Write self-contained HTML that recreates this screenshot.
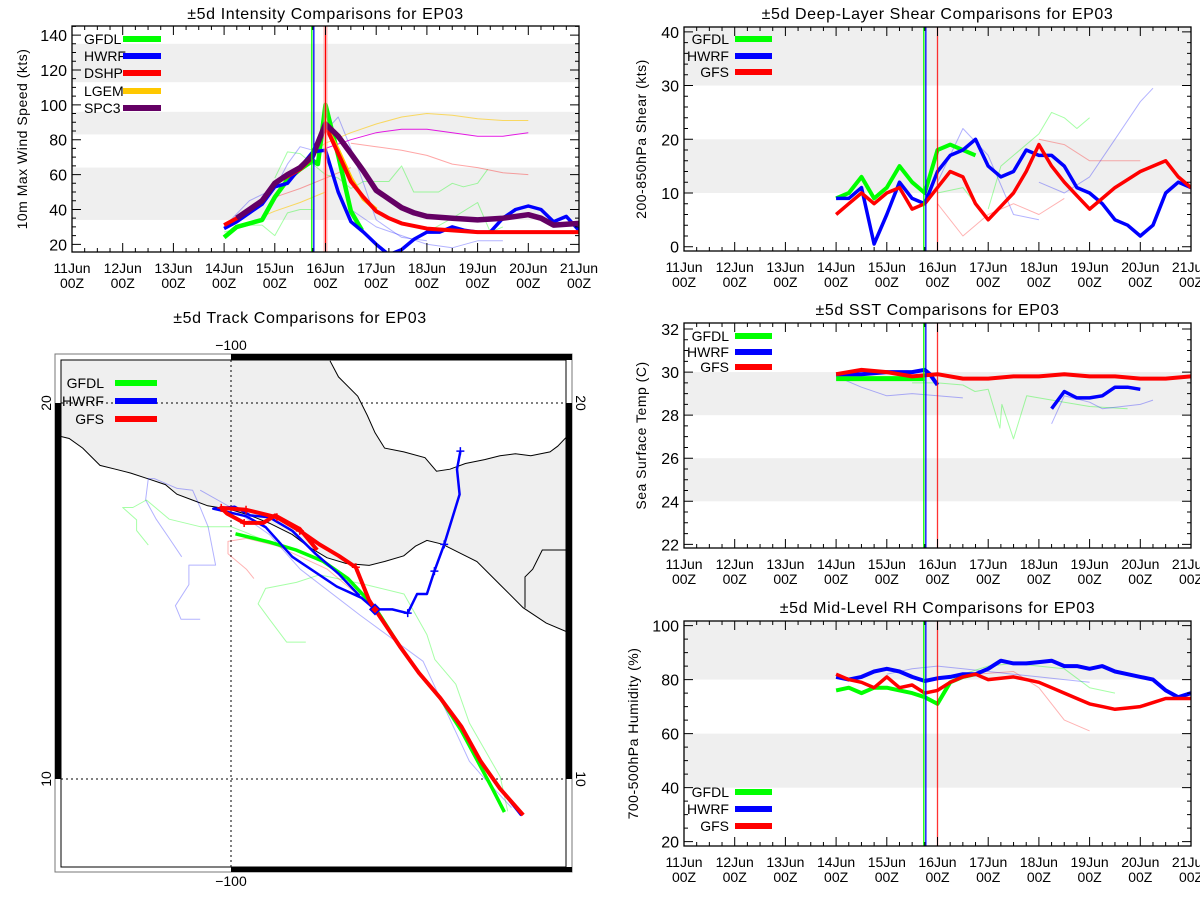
<!DOCTYPE html>
<html><head><meta charset="utf-8"><style>
html,body{margin:0;padding:0;background:#fff;}
svg{display:block;font-family:"Liberation Sans",sans-serif;}
</style></head><body>
<svg id="s" width="1200" height="900" xmlns="http://www.w3.org/2000/svg"></svg>
<script>
// ===== INTENSITY DATA (days since 11Jun 00Z, kts) =====
const dayLabels = ["11Jun","12Jun","13Jun","14Jun","15Jun","16Jun","17Jun","18Jun","19Jun","20Jun","21Jun"];
const intTicks = [20,40,60,80,100,120,140];
const dshpDays = [3,3.25,3.5,3.75,4,4.25,4.5,4.75,5,5.25,5.5,5.75,6,6.25,6.5,7,7.5,8,9,10];
const dshpVals = [31,35,40,45,55,59,63,70,88,72,56,47,39,35,32,29,28,27,27,27];
const spcDays = [3.25,3.5,3.75,4,4.25,4.5,4.75,5,5.25,5.5,5.75,6,6.25,6.5,6.75,7,7.5,8,8.5,9,9.25,9.5,10];
const spcVals = [35,40,45,55,60,64,71,89,82,72,62,51,46,41,38,36,35,34,35,37,35,31,32];
const lgemDays = [5,5.25,5.5,5.75,6];
const lgemVals = [88,74,58,46,40];
const gfdlIntDays = [3,3.25,3.5,3.75,4,4.25,4.5,4.75,4.85,5,5.25,5.5,5.72];
const gfdlIntVals = [24,30,32,34,47,57,63,68,66,100,71,39,28];
const hwrfIntDays = [3,3.25,3.5,3.75,4,4.25,4.5,4.75,5,5.25,5.5,5.75,6,6.25,6.5,6.75,7,7.25,7.5,7.75,8,8.25,8.5,8.75,9,9.25,9.5,9.75,10];
const hwrfIntVals = [29,33,38,43,53,55,64,73,74,50,33,27,20,14,17,23,27,27,30,28,27,27,35,40,42,40,33,36,28];
const lgemThinDays = [4.75,5,5.5,6,6.5,7,7.5,8,8.5,9];
const lgemThinVals = [73,78,84,89,93,95,94,92,91,91];
const lgemThin2Days = [3.75,4,4.5,5];
const lgemThin2Vals = [36,39,44,50];
const spcThinDays = [5,5.5,6,6.5,7,7.5,8,8.5,9];
const spcThinVals = [75,80,84,86,86,84,82,82,84];
const dshpThinDays = [4,4.5,5,5.5];
const dshpThinVals = [47,52,58,64];
const dshpThin2Days = [5.5,6,6.5,7,7.5,8,8.5,9];
const dshpThin2Vals = [78,76,74,71,66,64,61,60];
const gfdlThinIntDays = [3,3.5,3.75,4,4.25,4.5,4.75];
const gfdlThinIntVals = [27,31,31,25,38,40,40];
const gfdlThinInt2Days = [4,4.25,4.5,4.75,5,5.25,5.5,5.75,6.25,6.5,6.74,7.23,7.5,7.72,8,8.2];
const gfdlThinInt2Vals = [58,73,72,66,60,58,52,56,56,65,50,50,55,53,55,63];
const gfdlThinInt3Days = [7,7.5,8,8.25,8.5];
const gfdlThinInt3Vals = [27,35,44,27,30];
const hwrfThinIntDays = [3,3.5,4,4.25,4.5,4.75,5,5.25,5.5,5.75,6,6.5,7];
const hwrfThinIntVals = [30,45,52,66,76,74,85,93,75,55,34,24,22];
const hwrfThinInt2Days = [5.5,6,6.5,7,7.5,8,8.5];
const hwrfThinInt2Vals = [40,30,25,20,18,22,22];

// ===== SHEAR DATA (kts) =====
const shearTicks = [0,10,20,30,40];
const gfdlShearDays = [3,3.25,3.5,3.75,4,4.25,4.5,4.75,5,5.25,5.5,5.75];
const gfdlShearVals = [9,10,13,9,11,15,12,10,18,19,18,17];
const hwrfShearDays = [3,3.25,3.5,3.75,4,4.25,4.5,4.75,5,5.25,5.5,5.75,6,6.25,6.5,6.75,7,7.25,7.5,7.75,8,8.25,8.5,8.75,9,9.25,9.5,9.75,10];
const hwrfShearVals = [9,9,11,0.5,6,12,9,8,14,17,18,20,15,13,14,18,17,17,15,11,10,8,5,4,2,4,10,12,11];
const gfsShearDays = [3,3.25,3.5,3.75,4,4.25,4.5,4.75,5,5.25,5.5,5.75,6,6.25,6.5,6.75,7,7.25,7.5,7.75,8,8.25,8.5,8.75,9,9.25,9.5,9.75,10];
const gfsShearVals = [6,8,10,8,10,11,7,8,11,14,13,8,5,7.5,10,14,19,15,12,9.5,7,9,11,12.5,14,15,16,13,11];
const hwrfThinShearDays = [7,7.5,8,8.5,9,9.25];
const hwrfThinShearVals = [12,10,13,20,27,29.5];
const hwrfThinShear2Days = [5,5.5,6,6.5,7];
const hwrfThinShear2Vals = [12,22,17,6,5];
const gfdlThinShearDays = [6,6.25,6.5,7,7.25,7.5,7.75,8];
const gfdlThinShearVals = [7,15,17,21,25,24,22,24];
const gfdlThinShear2Days = [5,5.5,6];
const gfdlThinShear2Vals = [10,11,5];
const gfsThinShearDays = [7,7.5,8,8.5,9];
const gfsThinShearVals = [20,19,16,16,16];
const gfsThinShear2Days = [5,5.5,6,6.5,7,7.5];
const gfsThinShear2Vals = [8,2,6,8,6,9];

// ===== SST DATA (C) =====
const sstTicks = [22,24,26,28,30,32];
const gfsSstDays = [3,3.5,4,4.5,5,5.5,6,6.5,7,7.5,8,8.5,9,9.5,10];
const gfsSstVals = [29.9,30.1,30.0,29.8,29.9,29.7,29.7,29.8,29.8,29.9,29.8,29.8,29.7,29.7,29.8];
const hwrfSstDays = [3,3.5,4,4.5,4.75,4.85,5];
const hwrfSstVals = [29.9,29.9,30.0,30.0,30.1,29.9,29.4];
const hwrfSst2Days = [7.25,7.5,7.75,8,8.25,8.5,8.75,9];
const hwrfSst2Vals = [28.3,29.1,28.8,28.8,28.9,29.3,29.3,29.2];
const gfdlSstDays = [3,3.5,4,4.5,4.75];
const gfdlSstVals = [29.7,29.7,29.7,29.7,29.7];
const gfdlThinSstDays = [4.5,5,5.5,5.74,6,6.23,6.27,6.5,6.76,7,7.5,8,8.75];
const gfdlThinSstVals = [29.5,29.5,29.4,29.1,29.2,27.4,28.5,26.9,28.9,28.8,28.6,28.4,28.3];
const hwrfThinSstDays = [3,3.5,4,4.5,5,5.5];
const hwrfThinSstVals = [29.8,29.3,28.9,29.0,28.9,28.8];
const hwrfThinSst2Days = [7.25,7.5,8,8.25,9,9.25];
const hwrfThinSst2Vals = [27.6,28.9,28.6,28.3,28.5,28.7];

// ===== RH DATA (%) =====
const rhTicks = [20,40,60,80,100];
const hwrfRhDays = [3,3.25,3.5,3.75,4,4.25,4.5,4.75,5,5.25,5.5,5.75,6,6.25,6.5,6.75,7,7.25,7.5,7.75,8,8.25,8.5,8.75,9,9.25,9.5,9.75,10];
const hwrfRhVals = [81,80,81,83,84,83,81,79.5,80.5,81,82,82,84,87,86,86,86.5,87,85,85,84,85,83,82,81,80,76,73.5,75];
const gfsRhDays = [3,3.25,3.5,3.75,4,4.25,4.5,4.75,5,5.25,5.5,5.75,6,6.25,6.5,6.75,7,7.25,7.5,7.75,8,8.25,8.5,8.75,9,9.25,9.5,9.75,10];
const gfsRhVals = [82,80,79,77,81,77,78,75,76,79,81,82,80,80.5,81,80,79,77,75,73,71,70,69,69.5,70,71.5,73,73,73];
const gfdlRhDays = [3,3.25,3.5,3.75,4,4.25,4.5,4.75,5,5.25,5.5,5.75];
const gfdlRhVals = [76,77,75,77,77,76,75,73.5,71,79,81,82];
const gfsThinRhDays = [5.75,6.5,7,7.5,8];
const gfsThinRhVals = [82,83,77,65,61];
const hwrfThinRhDays = [4,4.5,5,5.5,6,6.5,7,7.5,8];
const hwrfThinRhVals = [82,84,85,84,83,82,81,80,79];
const gfdlThinRhDays = [5.5,6,6.5,7,7.5,8,8.5];
const gfdlThinRhVals = [82,85,86,85,84,77,75];

// ===== TRACK DATA (lon, lat) =====
const gfsTrackLon = [-92.23,-92.85,-93.36,-93.87,-94.43,-95.0,-95.51,-96.17,-96.33,-96.68,-97.14,-97.65,-98.17,-98.78,-99.60,-100.26,-100.11,-99.65,-99.14,-98.83,-98.17,-97.71];
const gfsTrackLat = [9.04,9.75,10.47,11.39,12.15,12.82,13.53,14.51,14.76,15.63,15.94,16.24,16.60,16.96,17.16,17.21,17.06,16.81,16.81,17.01,16.65,16.09];
const hwrfTrackLon = [-92.28,-92.85,-93.36,-93.87,-94.43,-95.0,-95.51,-96.17,-95.71,-95.30,-95.05,-94.79,-94.59,-94.33,-93.92,-93.99,-93.90];
const hwrfTrackLat = [9.03,9.75,10.47,11.39,12.15,12.82,13.53,14.51,14.51,14.41,14.92,14.92,15.53,16.24,17.57,18.24,18.72];
const hwrfTrack2Lon = [-96.17,-96.53,-97.19,-98.37,-99.08,-99.60,-100.47,-99.90,-99.49,-98.98,-98.37,-97.75,-97.14,-96.58];
const hwrfTrack2Lat = [14.51,14.82,15.12,15.91,16.70,16.99,17.19,17.24,17.01,16.96,16.60,15.99,15.46,14.87];
const gfdlTrackLon = [-92.73,-93.05,-93.87,-94.43,-95.0,-95.51,-96.17,-96.89,-97.55,-98.27,-98.98,-99.88];
const gfdlTrackLat = [9.12,9.75,11.28,12.15,12.82,13.53,14.56,15.33,15.79,16.09,16.30,16.52];
const hwrfThinTrackLon = [-100.82,-101.33,-101.48,-101.12,-101.12,-100.41,-100.61,-100.82,-101.02,-101.43,-102.04,-102.20,-102.27,-101.99,-101.64,-101.31];
const hwrfThinTrackLat = [14.25,14.25,14.61,15.17,15.69,15.69,16.71,17.22,17.68,17.73,17.99,17.99,17.42,16.91,16.40,15.91];
const hwrfThinTrack2Lon = [-92.54,-93.30,-93.66,-94.89,-96.57,-98.16,-98.98,-100.0,-100.82];
const hwrfThinTrack2Lat = [9.24,10.06,10.47,13.13,14.36,15.58,16.50,17.22,17.68];
const gfdlThinTrackLon = [-102.20,-102.51,-102.51,-102.88,-102.61,-102.25,-101.64,-100.82,-100.0,-99.59,-98.77];
const gfdlThinTrackLat = [16.22,16.61,16.89,17.22,17.22,17.42,16.91,16.71,16.71,16.55,16.20];
const gfdlThinTrack2Lon = [-98.01,-98.52,-98.98,-99.28,-99.08,-98.26,-97.65,-96.42,-95.40,-94.79,-94.58,-94.02,-93.66,-92.84,-92.64];
const gfdlThinTrack2Lat = [13.64,13.64,14.25,14.66,15.07,15.23,15.43,15.17,14.92,13.84,13.18,12.52,11.49,10.06,9.14];
const gfsThinTrackLon = [-99.39,-99.59,-100.08,-100.08,-99.59,-98.77,-97.44,-96.22];
const gfsThinTrackLat = [15.33,15.58,15.99,16.32,16.40,16.20,15.58,14.56];

// ===== helpers =====
const NS = "http://www.w3.org/2000/svg";
const S = document.getElementById('s');
function mk(tag, attrs, parent){ const e=document.createElementNS(NS,tag); for(const k in attrs) e.setAttribute(k,attrs[k]); (parent||S).appendChild(e); return e; }
function txt(str, x, y, size, anchor, parent, extra){ const t=mk('text',Object.assign({x:x,y:y,'font-size':size,'text-anchor':anchor||'middle',fill:'#000'},extra||{}),parent); t.textContent=str; return t; }

function makePanel(cfg){
  const g = mk('g',{});
  
  
  const xs = d => cfg.x0 + (d/10)*(cfg.x1-cfg.x0);
  const ys = v => cfg.y1 - (v-cfg.vmin)/(cfg.vmax-cfg.vmin)*(cfg.y1-cfg.y0);
  cfg.xs = xs; cfg.ys = ys; cfg.g = g;
  cfg.bands.forEach(b=>{
    const r = mk('rect',{x:cfg.x0,y:ys(Math.min(b[1],cfg.vmax)),width:cfg.x1-cfg.x0,height:ys(b[0])-ys(Math.min(b[1],cfg.vmax)),fill:'#efefef'},g);
    
    
  });
  const cid = 'clip-'+cfg.name;
  const cp = mk('clipPath',{id:cid},g);
  mk('rect',{x:cfg.x0,y:cfg.y0,width:cfg.x1-cfg.x0,height:cfg.y1-cfg.y0},cp);
  cfg.clip = mk('g',{'clip-path':'url(#'+cid+')'},g);
  const tt = txt(cfg.title,(cfg.x0+cfg.x1)/2,cfg.titleY,16,'middle',g,{'letter-spacing':'0.6'});
  
  
  const yt = txt(cfg.ytitle,0,0,14,'middle',g,{transform:`translate(${cfg.ytx},${(cfg.y0+cfg.y1)/2}) rotate(-90)`,'letter-spacing':'0.5'});
  
  
  return cfg;
}
function finishPanel(cfg){
  const g = cfg.g, xs=cfg.xs, ys=cfg.ys;
  let d='';
  for(let i=0;i<=40;i++){ const x=xs(i/4); const L = (i%4==0)?9:4;
    d+=`M${x},${cfg.y1}v${-L}M${x},${cfg.y0}v${L}`; }
  for(let v=Math.ceil(cfg.vmin/cfg.minor)*cfg.minor; v<=cfg.vmax; v+=cfg.minor){
    const y=ys(v); const major = cfg.ticks.some(t=>Math.abs(t-v)<1e-6); const L=major?9:4;
    d+=`M${cfg.x0},${y}h${L}M${cfg.x1},${y}h${-L}`; }
  const tk = mk('path',{d:d,stroke:'#000','stroke-width':1,fill:'none'},g);
  
  
  const fr = mk('rect',{x:cfg.x0,y:cfg.y0,width:cfg.x1-cfg.x0,height:cfg.y1-cfg.y0,fill:'none',stroke:'#000','stroke-width':1.3},g);
  
  
  dayLabels.forEach((lab,i)=>{
    const a = txt(lab,xs(i),cfg.y1+21,14,'middle',g);
    
    
    const b = txt('00Z',xs(i),cfg.y1+36,14,'middle',g);
    
    
  });
  cfg.ticks.forEach(v=>{
    const a = txt(String(v),cfg.x0-5,ys(v)+6,16,'end',g);
    
    
  });
}
function line(cfg, days, vals, color, w, opacity, name){
  const pts = days.map((d,i)=>cfg.xs(d).toFixed(1)+','+cfg.ys(vals[i]).toFixed(1)).join(' ');
  const p = mk('polyline',{points:pts,fill:'none',stroke:color,'stroke-width':w,'stroke-linejoin':'round',opacity:opacity},cfg.clip);
  
  
}
function vline(cfg, day, color, w, op){
  const x = cfg.xs(day);
  const l = mk('line',{x1:x,x2:x,y1:cfg.y0,y2:cfg.y1,stroke:color,'stroke-width':w,opacity:op},cfg.g);
  
  
}
function legend(g, entries, lx, x1, x2, ys, anchor){
  entries.forEach((e,i)=>{
    const t = txt(e[0],lx,ys[i]+5,14,anchor,g,{'fill':'#000'});
    
    
    const l = mk('line',{x1:x1,x2:x2,y1:ys[i],y2:ys[i],stroke:e[1],'stroke-width':6},g);
    
    
  });
}
const GR='#00ff00', BL='#0000ff', RD='#ff0000', YE='#ffc800', PU='#640064';

// ===== Intensity =====
const P1 = makePanel({name:'intensity-panel',title:'±5d Intensity Comparisons for EP03',ytitle:'10m Max Wind Speed (kts)',x0:72,x1:579,y0:26,y1:252,vmin:15.6,vmax:145.2,ticks:intTicks,minor:5,bands:[[34,64],[83,96],[113,135]],titleY:19,ytx:27});
line(P1,gfdlThinIntDays,gfdlThinIntVals,GR,1,0.35,'gfdl-thin-line');
line(P1,gfdlThinInt2Days,gfdlThinInt2Vals,GR,1,0.35,'gfdl-thin-line');
line(P1,gfdlThinInt3Days,gfdlThinInt3Vals,GR,1,0.35,'gfdl-thin-line');
line(P1,hwrfThinIntDays,hwrfThinIntVals,BL,1,0.3,'hwrf-thin-line');
line(P1,hwrfThinInt2Days,hwrfThinInt2Vals,BL,1,0.3,'hwrf-thin-line');
line(P1,lgemThinDays,lgemThinVals,YE,1,0.6,'lgem-thin-line');
line(P1,lgemThin2Days,lgemThin2Vals,YE,1,0.6,'lgem-thin-line');
line(P1,spcThinDays,spcThinVals,'#e000e0',1,0.9,'spc3-thin-line');
line(P1,dshpThinDays,dshpThinVals,RD,1,0.35,'dshp-thin-line');
line(P1,dshpThin2Days,dshpThin2Vals,RD,1,0.35,'dshp-thin-line');
line(P1,gfdlIntDays,gfdlIntVals,GR,4.5,1,'gfdl-intensity-line');
line(P1,hwrfIntDays,hwrfIntVals,BL,3.5,1,'hwrf-intensity-line');
line(P1,lgemDays,lgemVals,YE,4,1,'lgem-intensity-line');
line(P1,dshpDays,dshpVals,RD,4,1,'dshp-intensity-line');
line(P1,spcDays,spcVals,PU,5.5,1,'spc3-intensity-line');
vline(P1,4.73,GR,1.3,1); vline(P1,4.77,BL,1.3,1); vline(P1,5.0,'#ff8080',4,0.6); vline(P1,5.0,RD,1,1);
finishPanel(P1);
legend(P1.g,[['GFDL',GR],['HWRF',BL],['DSHP',RD],['LGEM',YE],['SPC3',PU]],84,123,161,[39,56,73,91,108],'start');

// ===== Shear =====
const P2 = makePanel({name:'shear-panel',title:'±5d Deep-Layer Shear Comparisons for EP03',ytitle:'200-850hPa Shear (kts)',x0:684,x1:1191,y0:27,y1:251,vmin:-0.8,vmax:40.9,ticks:shearTicks,minor:2,bands:[[10,20],[30,40.9]],titleY:19,ytx:646});
line(P2,hwrfThinShearDays,hwrfThinShearVals,BL,1,0.3,'hwrf-thin-line');
line(P2,hwrfThinShear2Days,hwrfThinShear2Vals,BL,1,0.3,'hwrf-thin-line');
line(P2,gfdlThinShearDays,gfdlThinShearVals,GR,1,0.35,'gfdl-thin-line');
line(P2,gfdlThinShear2Days,gfdlThinShear2Vals,GR,1,0.35,'gfdl-thin-line');
line(P2,gfsThinShearDays,gfsThinShearVals,RD,1,0.3,'gfs-thin-line');
line(P2,gfsThinShear2Days,gfsThinShear2Vals,RD,1,0.3,'gfs-thin-line');
line(P2,gfdlShearDays,gfdlShearVals,GR,4,1,'gfdl-shear-line');
line(P2,hwrfShearDays,hwrfShearVals,BL,3.5,1,'hwrf-shear-line');
line(P2,gfsShearDays,gfsShearVals,RD,3.5,1,'gfs-shear-line');
vline(P2,4.73,GR,1.3,1); vline(P2,4.77,BL,1.3,1); vline(P2,5.0,RD,1.3,0.8);
finishPanel(P2);
legend(P2.g,[['GFDL',GR],['HWRF',BL],['GFS',RD]],729,735,772,[39,56,72],'end');

// ===== SST =====
const P3 = makePanel({name:'sst-panel',title:'±5d SST Comparisons for EP03',ytitle:'Sea Surface Temp (C)',x0:684,x1:1191,y0:323,y1:548,vmin:21.83,vmax:32.28,ticks:sstTicks,minor:0.5,bands:[[28,30],[24,26]],titleY:315,ytx:646});
line(P3,gfdlThinSstDays,gfdlThinSstVals,GR,1,0.35,'gfdl-thin-line');
line(P3,hwrfThinSstDays,hwrfThinSstVals,BL,1,0.3,'hwrf-thin-line');
line(P3,hwrfThinSst2Days,hwrfThinSst2Vals,BL,1,0.3,'hwrf-thin-line');
line(P3,gfdlSstDays,gfdlSstVals,GR,5,1,'gfdl-sst-line');
line(P3,hwrfSstDays,hwrfSstVals,BL,4,1,'hwrf-sst-line');
line(P3,hwrfSst2Days,hwrfSst2Vals,BL,3.5,1,'hwrf-sst-line-2');
line(P3,gfsSstDays,gfsSstVals,RD,4,1,'gfs-sst-line');
vline(P3,4.73,GR,1.3,1); vline(P3,4.77,BL,1.3,1); vline(P3,5.0,RD,1.3,0.8);
finishPanel(P3);
legend(P3.g,[['GFDL',GR],['HWRF',BL],['GFS',RD]],729,735,772,[336,352,367],'end');

// ===== RH =====
const P4 = makePanel({name:'rh-panel',title:'±5d Mid-Level RH Comparisons for EP03',ytitle:'700-500hPa Humidity (%)',x0:684,x1:1191,y0:621,y1:846,vmin:18.4,vmax:101.7,ticks:rhTicks,minor:5,bands:[[80,101.7],[40,60]],titleY:613,ytx:638});
line(P4,gfsThinRhDays,gfsThinRhVals,RD,1,0.3,'gfs-thin-line');
line(P4,hwrfThinRhDays,hwrfThinRhVals,BL,1,0.3,'hwrf-thin-line');
line(P4,gfdlThinRhDays,gfdlThinRhVals,GR,1,0.35,'gfdl-thin-line');
line(P4,gfdlRhDays,gfdlRhVals,GR,4,1,'gfdl-rh-line');
line(P4,hwrfRhDays,hwrfRhVals,BL,4,1,'hwrf-rh-line');
line(P4,gfsRhDays,gfsRhVals,RD,3.5,1,'gfs-rh-line');
vline(P4,4.73,GR,1.3,1); vline(P4,4.77,BL,1.3,1); vline(P4,5.0,RD,1.3,0.8);
finishPanel(P4);
legend(P4.g,[['GFDL',GR],['HWRF',BL],['GFS',RD]],729,735,772,[792,809,826],'end');

// ===== Track map =====
(function(){
  const g = mk('g',{});
  
  
  const px = lon => 231 + (lon+100)*37.6;
  const py = lat => 403 + (20-lat)*37.6;
  const zp = (a) => a.map(p=>(p[0]/2.6).toFixed(1)+','+(300+p[1]/2.6).toFixed(1)).join(' ');
  const t = txt('±5d Track Comparisons for EP03',300,323,16,'middle',g,{'letter-spacing':'0.6'});
  
  
  const cp = mk('clipPath',{id:'mapclip'},g);
  mk('rect',{x:61,y:360,width:505,height:507},cp);
  const m = mk('g',{'clip-path':'url(#mapclip)'},g);
  const pac = [[158,355],[180,360],[215,385],[260,430],[300,440],[340,450],[385,465],[430,480],[460,505],[500,520],[540,535],[600,545],[650,560],[700,580],[760,610],[800,640],[850,670],[900,685],[960,690],[1000,680],[1050,665],[1080,640],[1110,625],[1150,635],[1190,655],[1240,680],[1300,740],[1360,800],[1420,840],[1472,862]];
  const gulf = [[858,158],[880,200],[930,250],[955,300],[975,345],[1000,385],[1050,395],[1105,410],[1135,445],[1170,440],[1210,425],[1260,415],[1300,405],[1340,400],[1380,405],[1430,395],[1450,380],[1472,357]];
  const landPts = [[150,150],[858,150]].concat(gulf).concat([[1480,357],[1480,870]]).concat(pac.slice().reverse()).concat([[150,355]]);
  const land = mk('polygon',{points:zp(landPts),fill:'#efefef',stroke:'none'},m);
  
  
  const c1 = mk('polyline',{points:zp(pac),fill:'none',stroke:'#000','stroke-width':1},m);
  
  
  const c2 = mk('polyline',{points:zp(gulf),fill:'none',stroke:'#000','stroke-width':1},m);
  
  
  const c3 = mk('polyline',{points:zp([[1472,650],[1410,650],[1385,700],[1365,720],[1365,800]]),fill:'none',stroke:'#000','stroke-width':1},m);
  
  
  const gd = mk('path',{d:`M${px(-100)},360V867M61,${py(20)}H566M61,${py(10)}H566`,stroke:'#000','stroke-width':1,'stroke-dasharray':'2,3',fill:'none'},m);
  
  
  function trk(lons,lats,color,w,op,name){
    const pts = lons.map((l,i)=>px(l).toFixed(1)+','+py(lats[i]).toFixed(1)).join(' ');
    const p = mk('polyline',{points:pts,fill:'none',stroke:color,'stroke-width':w,'stroke-linejoin':'round',opacity:op},m);
    
    
  }
  trk(hwrfThinTrackLon,hwrfThinTrackLat,BL,1,0.3,'hwrf-thin-track');
  trk(hwrfThinTrack2Lon,hwrfThinTrack2Lat,BL,1,0.3,'hwrf-thin-track');
  trk(gfdlThinTrackLon,gfdlThinTrackLat,GR,1,0.35,'gfdl-thin-track');
  trk(gfdlThinTrack2Lon,gfdlThinTrack2Lat,GR,1,0.35,'gfdl-thin-track');
  trk(gfsThinTrackLon,gfsThinTrackLat,RD,1,0.3,'gfs-thin-track');
  trk(gfdlTrackLon,gfdlTrackLat,GR,3.5,1,'gfdl-track');
  trk(hwrfTrackLon,hwrfTrackLat,BL,2.5,1,'hwrf-track');
  trk(hwrfTrack2Lon,hwrfTrack2Lat,BL,2.5,1,'hwrf-track-2');
  trk(gfsTrackLon,gfsTrackLat,RD,4,1,'gfs-track');
  [7,9,12,13,16].forEach(i=>{
    const x=px(hwrfTrackLon[i]), y=py(hwrfTrackLat[i]);
    const c = mk('path',{d:`M${x-4},${y}h8M${x},${y-4}v8`,stroke:BL,'stroke-width':1.5},m);
    
    
  });
  [9,12,13,14,15,17].forEach(i=>{
    const x=px(gfsTrackLon[i]), y=py(gfsTrackLat[i]);
    const c = mk('path',{d:`M${x-4},${y}h8M${x},${y-4}v8`,stroke:RD,'stroke-width':1.5},m);
    
    
  });
  const dx=px(gfsTrackLon[7]), dy=py(gfsTrackLat[7]);
  const dm = mk('path',{d:`M${dx},${dy-5}l5,5l-5,5l-5,-5z`,fill:RD,stroke:BL,'stroke-width':1.5},m);
  
  
  const f1 = mk('rect',{x:55,y:354,width:517,height:518,fill:'none',stroke:'#777','stroke-width':1},g);
  
  
  const f2 = mk('rect',{x:61,y:360,width:505,height:507,fill:'none',stroke:'#000','stroke-width':1},g);
  
  
  const bars = mk('path',{d:`M${px(-100)},354H572V360H${px(-100)}ZM${px(-100)},867H572V872H${px(-100)}ZM55,${py(20)}H61V${py(10)}H55ZM566,${py(20)}H572V${py(10)}H566Z`,fill:'#000'},g);
  
  
  [['−100',px(-100),350],['−100',px(-100),886]].forEach(a=>{
    const l = txt(a[0],a[1],a[2],14,'middle',g);
    
    
  });
  [['20',20],['10',10]].forEach(a=>{
    const l = txt(a[0],0,0,14,'middle',g,{transform:`translate(51,${py(a[1])}) rotate(-90)`});
    
    
    const r = txt(a[0],0,0,14,'middle',g,{transform:`translate(576,${py(a[1])}) rotate(90)`});
    
    
  });
  legend(g,[['GFDL',GR],['HWRF',BL],['GFS',RD]],104,115,157,[383,401,419],'end');
})();
</script>
</body></html>
